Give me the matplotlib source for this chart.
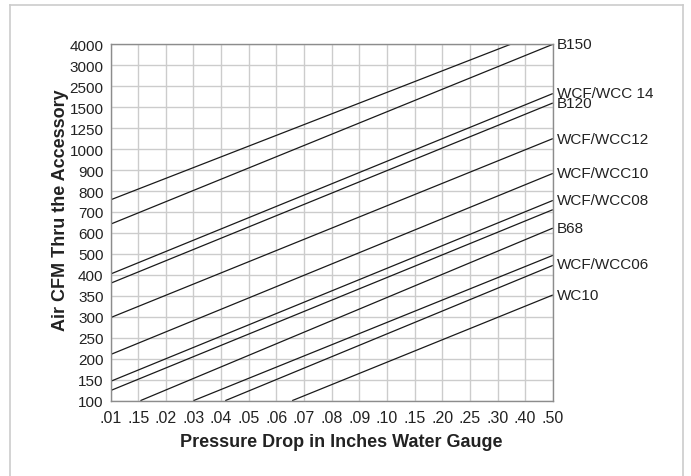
import numpy as np
import matplotlib
matplotlib.use('Agg')
import matplotlib.pyplot as plt
from matplotlib.lines import Line2D

# axis tick values (the chart uses an evenly spaced, non-linear scale)
x_ticks = [0.01, 0.015, 0.02, 0.03, 0.04, 0.05, 0.06, 0.07, 0.08, 0.09, 0.10,
           0.15, 0.20, 0.25, 0.30, 0.40, 0.50]
x_labels = ['.01', '.15', '.02', '.03', '.04', '.05', '.06', '.07', '.08', '.09',
            '.10', '.15', '.20', '.25', '.30', '.40', '.50']
y_ticks = [100, 150, 200, 250, 300, 350, 400, 500, 600, 700, 800, 900, 1000,
           1250, 1500, 2500, 3000, 4000]

# each curve: start (pressure, cfm) and end (pressure, cfm)
x_start = [0.01, 0.01, 0.01, 0.01, 0.01, 0.01, 0.01, 0.01, 0.0154, 0.03, 0.0415, 0.0657]
y_start = [758, 642, 404, 380, 298, 210, 146, 124, 100, 100, 100, 100]
x_end = [0.347, 0.50, 0.50, 0.50, 0.50, 0.50, 0.50, 0.50, 0.50, 0.50, 0.50, 0.50]
y_end = [4000, 4000, 2150, 1700, 1125, 884, 755, 711, 623, 493, 445, 352]

labels = ['B150', 'WCF/WCC 14', 'B120', 'WCF/WCC12', 'WCF/WCC10', 'WCF/WCC08',
          'B68', 'WCF/WCC06', 'WC10']
label_y = [4000, 2200, 1680, 1125, 884, 755, 623, 450, 352]


def make_scale(vals):
    idx = np.arange(len(vals), dtype=float)
    fwd = lambda v: np.interp(v, vals, idx)
    inv = lambda i: np.interp(i, idx, vals)
    return fwd, inv


plt.rcParams['font.family'] = ['Liberation Sans', 'DejaVu Sans']

fig = plt.figure(figsize=(6.91, 4.77), dpi=100)
ax = fig.add_axes([0.160, 0.158, 0.640, 0.747])

ax.set_xscale('function', functions=make_scale(x_ticks))
ax.set_yscale('function', functions=make_scale(y_ticks))
ax.set_xlim(0.01, 0.50)
ax.set_ylim(100, 4000)

for xs, ys, xe, ye in zip(x_start, y_start, x_end, y_end):
    ax.plot([xs, xe], [ys, ye], color='#1a1a1a', lw=0.9, solid_capstyle='butt')

ax.set_xticks(x_ticks)
ax.set_xticklabels(x_labels)
ax.set_yticks(y_ticks)
ax.set_yticklabels([str(v) for v in y_ticks])
ax.minorticks_off()
ax.tick_params(length=0, colors='#222222')
ax.tick_params(axis='x', pad=7, labelsize=11.5)
ax.tick_params(axis='y', pad=5, labelsize=11)

ax.grid(True, color='#cccccc', lw=1)
for s in ax.spines.values():
    s.set_color('#8c8c8c')
    s.set_linewidth(1)

for lab, yv in zip(labels, label_y):
    ax.text(1.01, ax.transScale.transform([[0.5, yv]])[0][1] / 17.0, lab,
            transform=ax.transAxes, va='center', ha='left', fontsize=11, color='#222222')

ax.set_xlabel('Pressure Drop in Inches Water Gauge', fontsize=13, fontweight='bold',
              color='#222222')
ax.set_ylabel('Air CFM Thru the Accessory', fontsize=13, fontweight='bold',
              color='#222222')
ax.xaxis.set_label_coords(0.521, -0.09)
ax.yaxis.set_label_coords(-0.095, 0.536)

# light frame around the picture
frame = dict(color='#cccccc', lw=1.2, transform=fig.transFigure)
fig.add_artist(Line2D([0.015, 0.015], [0.0, 0.988], **frame))
fig.add_artist(Line2D([0.015, 0.988], [0.988, 0.988], **frame))
fig.add_artist(Line2D([0.988, 0.988], [0.0, 0.988], **frame))

fig.savefig('out.png', dpi=100)
